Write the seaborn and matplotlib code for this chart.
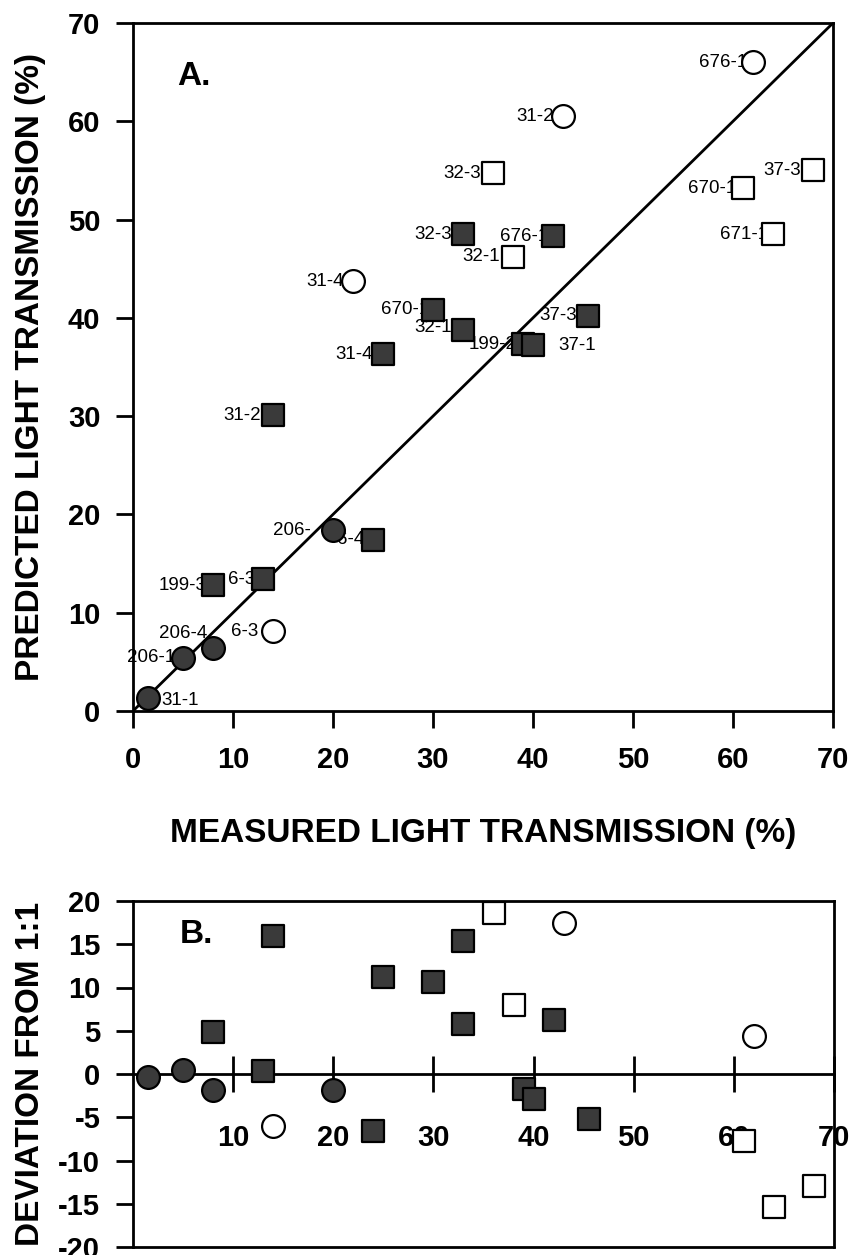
import numpy as np
import pandas as pd
import matplotlib
matplotlib.use("Agg")
import matplotlib.pyplot as plt
import seaborn as sns

# ---------------- Panel A data ----------------
sample_a = ["676-1", "31-2", "32-3", "670-1", "37-3", "671-1", "32-3", "676-1",
            "32-1", "31-4", "670-1", "37-3", "32-1", "199-2", "37-1", "31-4",
            "31-2", "206-", "6-4", "6-3", "199-3", "6-3", "206-4", "206-1", "31-1"]
measured_a = [62, 43, 36, 61, 68, 64, 33, 42,
              38, 22, 30, 45.5, 33, 39, 40, 25,
              14, 20, 24, 13, 8, 14, 8, 5, 1.5]
predicted_a = [66, 60.5, 54.7, 53.2, 55, 48.5, 48.5, 48.3,
               46.2, 43.7, 40.8, 40.2, 38.8, 37.3, 37.2, 36.3,
               30.1, 18.4, 17.4, 13.4, 12.8, 8.1, 6.4, 5.4, 1.3]
shape_a = ["circle", "circle", "square", "square", "square", "square", "square", "square",
           "square", "circle", "square", "square", "square", "square", "square", "square",
           "square", "circle", "square", "square", "square", "circle", "circle", "circle", "circle"]
fill_a = ["open", "open", "open", "open", "open", "open", "filled", "filled",
          "open", "open", "filled", "filled", "filled", "filled", "filled", "filled",
          "filled", "filled", "filled", "filled", "filled", "open", "filled", "filled", "filled"]

# 1:1 reference line
diag_x = [0, 70]
diag_y = [0, 70]

# ---------------- Panel B data ----------------
measured_b = [1.5, 5, 8, 8, 13, 14, 14, 20, 24, 25, 30, 33, 33, 36, 38, 39, 40,
              42, 43, 45.5, 62, 61, 64, 68]
deviation_b = [-0.3, 0.5, -1.8, 4.8, 0.4, 16.0, -6.0, -1.8, -6.6, 11.2, 10.6, 15.4, 5.8,
               18.6, 8.0, -1.7, -2.9, 6.2, 17.5, -5.2, 4.4, -7.8, -15.4, -13.0]
shape_b = ["circle", "circle", "circle", "square", "square", "square", "circle", "circle",
           "square", "square", "square", "square", "square", "square", "square", "square",
           "square", "square", "circle", "square", "circle", "square", "square", "square"]
fill_b = ["filled", "filled", "filled", "filled", "filled", "filled", "open", "filled",
          "filled", "filled", "filled", "filled", "filled", "open", "open", "filled",
          "filled", "filled", "open", "filled", "open", "open", "open", "open"]

ticks_a = [0, 10, 20, 30, 40, 50, 60, 70]
xticks_b = [10, 20, 30, 40, 50, 60, 70]
yticks_b = [-20, -15, -10, -5, 0, 5, 10, 15, 20]
yticklabels_b = ["-20", "-15", "-10", "-5", "0", "5", "10", "15", "20"]

# label placement (pixel offsets from the point; styling only)
label_dx = [-6, -9, -12, -7, -12, -5, -11, -5,
            -13, -9, -4, -11, -11, -6, 25, -10,
            -12, -22, -9, -8, -6, -15, -6, -8, 13]
label_dy = [0, 0, 0, 0, 0, 0, 0, 0,
            0, 0, 0, 0, 2, 0, 0, 0,
            0, 0, 0, 0, 0, 0, 15, 0, -2]

MARKERS = {"circle": "o", "square": "s"}
SIZES = {"circle": 270, "square": 235}
FILLS = {"filled": "#3a3a3a", "open": "white"}

sns.set_style("ticks")
plt.rcParams["font.family"] = ["Liberation Sans", "DejaVu Sans"]
plt.rcParams["font.weight"] = "bold"
plt.rcParams["axes.unicode_minus"] = False
plt.rcParams["text.color"] = "black"
plt.rcParams["axes.labelcolor"] = "black"
plt.rcParams["xtick.color"] = "black"
plt.rcParams["ytick.color"] = "black"

fig = plt.figure(figsize=(8.51, 12.55), dpi=100)
W, H = 851.0, 1255.0
axA = fig.add_axes([133 / W, 1 - 711 / H, 700 / W, 688 / H])
axB = fig.add_axes([133 / W, 1 - 1247 / H, 701 / W, 346 / H])

# ---------------- Panel A ----------------
df_a = pd.DataFrame(dict(measured=measured_a, predicted=predicted_a,
                         shape=shape_a, fill=fill_a))
sns.lineplot(x=diag_x, y=diag_y, color="black", lw=2, ax=axA, zorder=2)
for (shp, fl), sub in df_a.groupby(["shape", "fill"]):
    sns.scatterplot(data=sub, x="measured", y="predicted", marker=MARKERS[shp],
                    s=SIZES[shp], color=FILLS[fl], edgecolor="black", linewidth=1.6,
                    ax=axA, zorder=4, legend=False, clip_on=False)

for lab, xv, yv, dx, dy in zip(sample_a, measured_a, predicted_a, label_dx, label_dy):
    ha = "left" if dx > 12 else "right"
    axA.annotate(lab, (xv, yv), xytext=(dx * 0.72, dy * 0.72), textcoords="offset points",
                 ha=ha, va="center", fontsize=13.5, fontweight="normal", color="black",
                 zorder=3)

axA.set_xlim(0, 70)
axA.set_ylim(0, 70)
axA.set_xticks(ticks_a)
axA.set_yticks(ticks_a)
axA.tick_params(axis="both", direction="out", length=12.5, width=2, labelsize=21,
                color="black", labelcolor="black")
axA.tick_params(axis="x", pad=13)
axA.tick_params(axis="y", pad=11)
for sp in axA.spines.values():
    sp.set_linewidth(2)
    sp.set_color("black")
axA.set_xlabel("MEASURED LIGHT TRANSMISSION (%)", fontsize=24, fontweight="bold")
axA.set_ylabel("PREDICTED LIGHT TRANSMISSION (%)", fontsize=24, fontweight="bold")
axA.xaxis.set_label_coords(0.5, (711 - 818) / 688.0)
axA.yaxis.set_label_coords((46 - 133) / 700.0, 0.5)
axA.text(0.063, 0.91, "A.", transform=axA.transAxes, fontsize=24, fontweight="bold",
         ha="left", va="baseline")

# ---------------- Panel B ----------------
df_b = pd.DataFrame(dict(measured=measured_b, deviation=deviation_b,
                         shape=shape_b, fill=fill_b))
for (shp, fl), sub in df_b.groupby(["shape", "fill"]):
    sns.scatterplot(data=sub, x="measured", y="deviation", marker=MARKERS[shp],
                    s=SIZES[shp], color=FILLS[fl], edgecolor="black", linewidth=1.6,
                    ax=axB, zorder=4, legend=False, clip_on=False)

axB.set_xlim(0, 70)
axB.set_ylim(-20, 20)
axB.spines["bottom"].set_position(("data", 0))
axB.axhline(-20, color="black", lw=2, clip_on=False, zorder=3)
axB.set_xticks(xticks_b)
axB.set_yticks(yticks_b)
axB.set_yticklabels(yticklabels_b)
axB.tick_params(axis="x", direction="inout", length=26, width=2, pad=23, labelsize=21,
                color="black", labelcolor="black")
axB.tick_params(axis="y", direction="out", length=12.5, width=2, pad=11, labelsize=21,
                color="black", labelcolor="black")
for sp in axB.spines.values():
    sp.set_linewidth(2)
    sp.set_color("black")
axB.set_xlabel("")
axB.set_ylabel("DEVIATION FROM 1:1", fontsize=24, fontweight="bold")
axB.yaxis.set_label_coords((46 - 133) / 701.0, 0.5)
axB.text(0.067, 0.879, "B.", transform=axB.transAxes, fontsize=24, fontweight="bold",
         ha="left", va="baseline")

fig.savefig("out.png", dpi=100)
